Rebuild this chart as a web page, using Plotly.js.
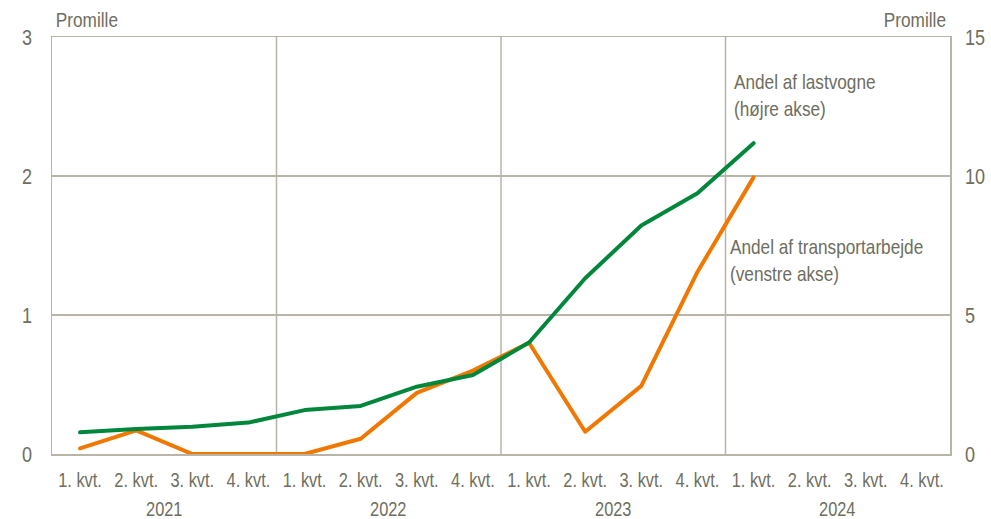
<!DOCTYPE html>
<html>
<head>
<meta charset="utf-8">
<script src="https://cdn.plot.ly/plotly-3.0.1.min.js"></script>
<style>html,body{margin:0;padding:0;background:#fff;}#chart{width:991px;height:519px;}
#chart .scatterlayer path.js-line{stroke-linecap:round;stroke-linejoin:round;}</style>
</head>
<body>
<div id="chart"></div>
<script>
const quarterLabels = ["1. kvt.","2. kvt.","3. kvt.","4. kvt.","1. kvt.","2. kvt.","3. kvt.","4. kvt.","1. kvt.","2. kvt.","3. kvt.","4. kvt.","1. kvt.","2. kvt.","3. kvt.","4. kvt."];
const years = ["2021","2022","2023","2024"];
const transportarbejde = [0.04, 0.17, 0, 0, 0, 0.11, 0.44, 0.6, 0.8, 0.16, 0.49, 1.31, 1.99];
const lastvogne = [0.78, 0.9, 0.98, 1.13, 1.58, 1.73, 2.42, 2.84, 4.01, 6.32, 8.22, 9.38, 11.18];
const seriesNames = ["Andel af transportarbejde<br>(venstre akse)", "Andel af lastvogne<br>(højre akse)"];

const idx = quarterLabels.map((_, i) => i);
const grid = '#b8b5a8';
const txt = '#6e6e5e';
const font = '"Liberation Sans", Arial, sans-serif';
const squeeze = 0.82;

const traces = [
  {x: idx.slice(0, transportarbejde.length), y: transportarbejde, type: 'scatter', mode: 'lines',
   line: {color: '#f07800', width: 4}, yaxis: 'y', name: seriesNames[0], hoverinfo: 'skip'},
  {x: idx.slice(0, lastvogne.length), y: lastvogne, type: 'scatter', mode: 'lines',
   line: {color: '#00873c', width: 4}, yaxis: 'y2', name: seriesNames[1], hoverinfo: 'skip'}
];

const shapes = [];
for (let k = 1; k < years.length; k++) {
  shapes.push({type: 'line', xref: 'x', yref: 'paper', x0: k*4 - 0.5, x1: k*4 - 0.5, y0: 0, y1: 1,
               line: {color: grid, width: 1.5}, layer: 'below'});
}

const annotations = years.map((yr, k) => ({
  text: yr, x: k*4 + 1.5, xref: 'x', y: 0, yref: 'paper', yanchor: 'middle', yshift: -55, showarrow: false,
  font: {size: 20, color: txt, family: font}
}));
annotations.push(
  {text: 'Promille', xref: 'paper', yref: 'paper', x: 0, y: 1, xanchor: 'left', yanchor: 'bottom',
   xshift: -5, yshift: 4, showarrow: false, font: {size: 21, color: txt, family: font}},
  {text: 'Promille', xref: 'paper', yref: 'paper', x: 1, y: 1, xanchor: 'right', yanchor: 'bottom',
   xshift: 5, yshift: 4, showarrow: false, font: {size: 21, color: txt, family: font}},
  {text: seriesNames[1], xref: 'x', yref: 'y2', x: 12, y: 12.92, xanchor: 'left', yanchor: 'middle', align: 'left',
   xshift: -22, showarrow: false, font: {size: 21, color: txt, family: font}},
  {text: seriesNames[0], xref: 'x', yref: 'y', x: 12, y: 1.393, xanchor: 'left', yanchor: 'middle', align: 'left',
   xshift: -26, showarrow: false, font: {size: 21, color: txt, family: font}}
);

const layout = {
  width: 991, height: 519,
  margin: {l: 52, r: 41, t: 37, b: 65},
  paper_bgcolor: '#fff', plot_bgcolor: '#fff',
  showlegend: false,
  font: {family: font, color: txt, size: 20},
  xaxis: {range: [-0.5, 15.5], tickvals: idx, ticktext: quarterLabels, showgrid: false, zeroline: false,
          showline: true, linecolor: grid, linewidth: 1.5, mirror: true, ticks: '', ticklabelstandoff: 8,
          tickfont: {size: 20, color: txt, family: font}, fixedrange: true},
  yaxis: {range: [0, 3], dtick: 1, showgrid: true, gridcolor: grid, gridwidth: 1.5, zeroline: false,
          showline: true, linecolor: grid, linewidth: 1.5, ticks: '', ticklabelstandoff: 14,
          tickfont: {size: 22, color: txt, family: font}},
  yaxis2: {range: [0, 15], dtick: 5, overlaying: 'y', side: 'right', showgrid: false, zeroline: false,
           showline: true, linecolor: grid, linewidth: 1.5, ticks: '', ticklabelstandoff: 9,
           tickfont: {size: 22, color: txt, family: font}},
  shapes: shapes,
  annotations: annotations
};

Plotly.newPlot('chart', traces, layout, {displayModeBar: false, staticPlot: true}).then(gd => {
  // condense text horizontally about its anchor to mimic the narrow typeface of the original
  gd.querySelectorAll('svg text').forEach(t => {
    const ax = parseFloat(t.getAttribute('x') || '0');
    const prev = t.getAttribute('transform') || '';
    t.setAttribute('transform', prev + ' translate(' + ax + ',0) scale(' + squeeze + ',1) translate(' + (-ax) + ',0)');
  });
});
</script>
</body>
</html>
